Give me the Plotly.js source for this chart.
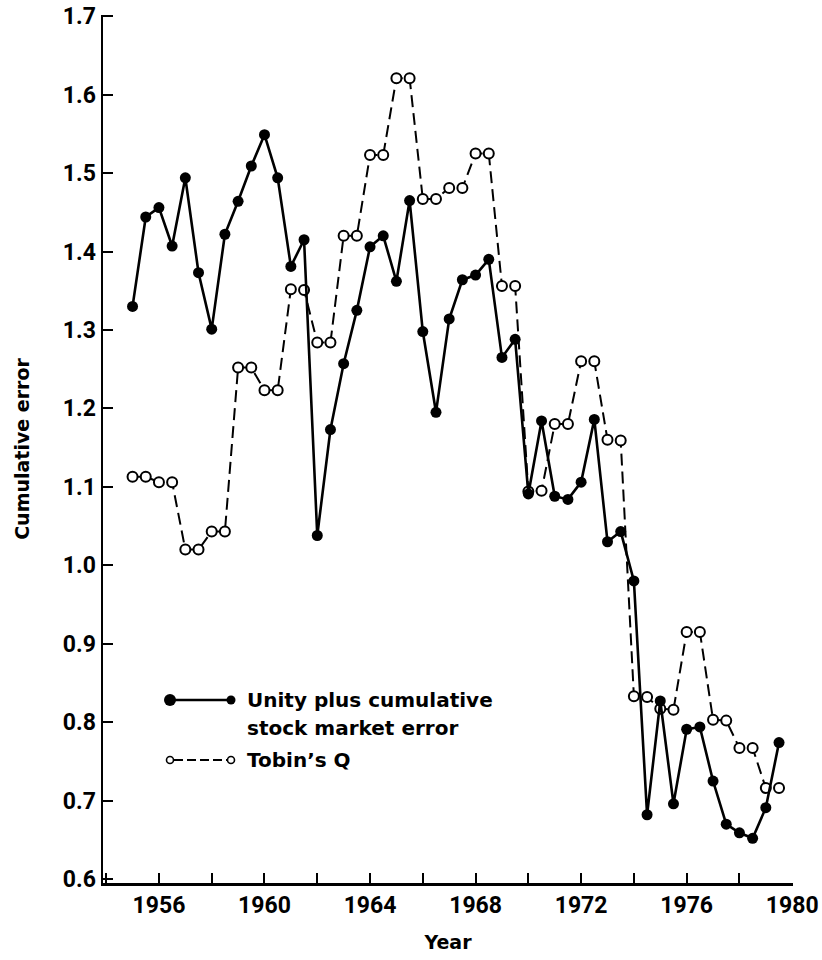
<!DOCTYPE html>
<html>
<head>
<meta charset="utf-8">
<script src="https://cdn.plot.ly/plotly-3.0.1.min.js"></script>
<style>html,body{margin:0;padding:0;background:#fff;}#chart{width:822px;height:960px;}</style>
</head>
<body>
<div id="chart"></div>
<script>
// Half-year observation times
const years = [
  1955.0,1955.5,1956.0,1956.5,1957.0,1957.5,1958.0,1958.5,1959.0,1959.5,
  1960.0,1960.5,1961.0,1961.5,1962.0,1962.5,1963.0,1963.5,1964.0,1964.5,
  1965.0,1965.5,1966.0,1966.5,1967.0,1967.5,1968.0,1968.5,1969.0,1969.5,
  1970.0,1970.5,1971.0,1971.5,1972.0,1972.5,1973.0,1973.5,1974.0,1974.5,
  1975.0,1975.5,1976.0,1976.5,1977.0,1977.5,1978.0,1978.5,1979.0,1979.5
];
// Unity plus cumulative stock market error
const stockError = [
  1.330,1.444,1.456,1.407,1.494,1.373,1.301,1.422,1.464,1.509,
  1.549,1.494,1.381,1.415,1.038,1.173,1.257,1.325,1.406,1.420,
  1.362,1.465,1.298,1.195,1.314,1.364,1.370,1.390,1.265,1.288,
  1.091,1.184,1.088,1.084,1.106,1.186,1.030,1.043,0.980,0.682,
  0.827,0.696,0.791,0.794,0.725,0.670,0.659,0.652,0.691,0.774
];
// Tobin's Q
const tobinQ = [
  1.113,1.113,1.106,1.106,1.020,1.020,1.043,1.043,1.252,1.252,
  1.223,1.223,1.352,1.351,1.284,1.284,1.420,1.420,1.523,1.523,
  1.621,1.621,1.467,1.467,1.481,1.481,1.525,1.525,1.356,1.356,
  1.094,1.095,1.180,1.180,1.260,1.260,1.160,1.159,0.833,0.832,
  0.817,0.816,0.915,0.915,0.803,0.802,0.767,0.767,0.716,0.716
];
const seriesNames = ["Unity plus cumulative", "stock market error", "Tobin\u2019s Q"];
const xTickVals = [1956,1960,1964,1968,1972,1976,1980];
const yTickVals = [0.6,0.7,0.8,0.9,1.0,1.1,1.2,1.3,1.4,1.5,1.6,1.7];

const FONT = "Roboto,'DejaVu Sans Condensed',sans-serif";
const LFONT = "'DejaVu Sans','Liberation Sans',sans-serif";

const traces = [
  {
    x: years, y: tobinQ, type: 'scatter', mode: 'lines+markers', name: seriesNames[2],
    line: {color: '#000', width: 2, dash: '12px,6px'},
    marker: {symbol: 'circle', size: 10, color: '#fff', line: {color: '#000', width: 2}},
    cliponaxis: false
  },
  {
    x: years, y: stockError, type: 'scatter', mode: 'lines+markers', name: seriesNames[0] + ' ' + seriesNames[1],
    line: {color: '#000', width: 2.6},
    marker: {symbol: 'circle', size: 11, color: '#000'},
    cliponaxis: false
  }
];

// plot-area pixel geometry helpers for the hand-drawn legend
const L = 103, R = 29, T = 15, B = 77, W = 822, H = 960;
const PW = W - L - R, PH = H - T - B;
const px = v => (v - L) / PW;
const py = v => (H - B - v) / PH;
function dot(x, y, r, fill, lw) {
  return {type: 'circle', xref: 'paper', yref: 'paper', xsizemode: 'pixel', ysizemode: 'pixel',
    xanchor: px(x), yanchor: py(y), x0: -r, x1: r, y0: -r, y1: r,
    fillcolor: fill, line: {color: '#000', width: lw}};
}
const shapes = [
  {type: 'line', xref: 'paper', yref: 'paper', x0: px(170), x1: px(231), y0: py(700), y1: py(700),
   line: {color: '#000', width: 2.6}},
  dot(170, 700, 6, '#000', 0),
  dot(231, 700, 4.5, '#000', 0),
  {type: 'line', xref: 'paper', yref: 'paper', x0: px(174), x1: px(228), y0: py(760), y1: py(760),
   line: {color: '#000', width: 1.8, dash: '9px,4px'}},
  dot(170, 760, 3.5, '#fff', 1.6),
  dot(231, 760, 3.5, '#fff', 1.6)
];
const annotations = [
  {xref: 'paper', yref: 'paper', x: px(245), y: py(700), xanchor: 'left', yanchor: 'middle', showarrow: false,
   text: seriesNames[0], font: {family: LFONT, size: 20, color: '#000', weight: 'bold'}},
  {xref: 'paper', yref: 'paper', x: px(245), y: py(728), xanchor: 'left', yanchor: 'middle', showarrow: false,
   text: seriesNames[1], font: {family: LFONT, size: 20, color: '#000', weight: 'bold'}},
  {xref: 'paper', yref: 'paper', x: px(245), y: py(760), xanchor: 'left', yanchor: 'middle', showarrow: false,
   text: seriesNames[2], font: {family: LFONT, size: 20, color: '#000', weight: 'bold'}}
];

const layout = {
  width: W, height: H,
  margin: {l: L, r: R, t: T, b: B},
  paper_bgcolor: '#fff', plot_bgcolor: '#fff',
  showlegend: false,
  xaxis: {
    range: [1953.88, 1980.03],
    tickmode: 'array', tickvals: xTickVals, ticktext: xTickVals.map(String),
    ticks: 'inside', ticklen: 10, tickwidth: 2, tickcolor: '#000',
    minor: {tickmode: 'linear', tick0: 1954, dtick: 2, ticks: 'inside', ticklen: 10, tickwidth: 2, tickcolor: '#000', showgrid: false},
    showline: true, linecolor: '#000', linewidth: 2.5,
    showgrid: false, zeroline: false,
    ticklabeloverflow: 'allow',
    tickfont: {family: FONT, size: 23, color: '#000', weight: 'bold'},
    title: {text: 'Year', standoff: 18, font: {family: LFONT, size: 19, color: '#000', weight: 'bold'}}
  },
  yaxis: {
    range: [0.595, 1.7015],
    tickmode: 'array', tickvals: yTickVals, ticktext: yTickVals.map(v => v.toFixed(1)),
    ticks: 'inside', ticklen: 10, tickwidth: 2, tickcolor: '#000',
    showline: true, linecolor: '#000', linewidth: 2.5,
    showgrid: false, zeroline: false,
    ticklabeloverflow: 'allow',
    tickfont: {family: FONT, size: 23, color: '#000', weight: 'bold'},
    title: {text: 'Cumulative error', standoff: 28, font: {family: LFONT, size: 19, color: '#000', weight: 'bold'}}
  },
  shapes: shapes,
  annotations: annotations
};

Plotly.newPlot('chart', traces, layout, {displayModeBar: false, staticPlot: true});
</script>
</body>
</html>
